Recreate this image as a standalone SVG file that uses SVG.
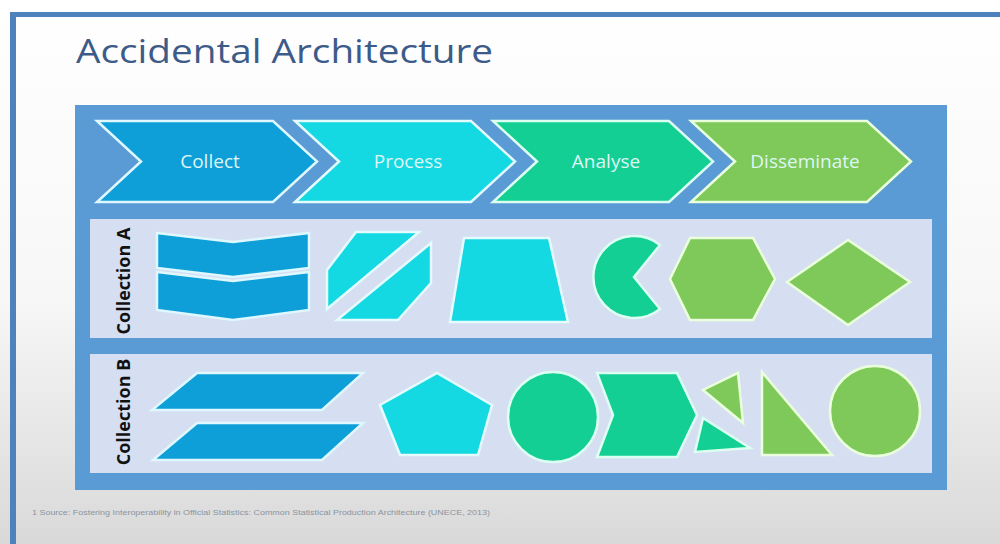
<svg xmlns="http://www.w3.org/2000/svg" width="1000" height="544" viewBox="0 0 1000 544">
  <defs>
    <linearGradient id="bg" x1="0" y1="0" x2="0" y2="1">
      <stop offset="0" stop-color="#ffffff"/>
      <stop offset="0.55" stop-color="#f7f7f7"/>
      <stop offset="1" stop-color="#d9d9d9"/>
    </linearGradient>
  </defs>
  <style>
    .title { font-family: "Open Sans", "Lato", sans-serif; font-size: 32px; fill: #3d5b88; }
    .stage { font-family: "Open Sans", "Lato", sans-serif; font-size: 19px; fill: #dff6f6; text-anchor: middle; dominant-baseline: central; }
    .rowlabel { font-family: "Open Sans", "Lato", sans-serif; font-size: 18px; font-weight: bold; fill: #111111; text-anchor: middle; dominant-baseline: central; }
    .note { font-family: "Liberation Sans", sans-serif; font-size: 8px; fill: #8a949e; }
    .panel { fill: #5b9bd5; }
    .band { fill: #d5dff1; }
    .blue { fill: #0e9fd8; stroke: #dff8ff; stroke-width: 2.5; stroke-linejoin: miter; }
    .cyan { fill: #14d9e2; stroke: #e4fcff; stroke-width: 2.5; }
    .teal { fill: #13cf94; stroke: #dcfff2; stroke-width: 2.5; }
    .lime { fill: #7ec95a; stroke: #eaffdc; stroke-width: 2.5; }
  </style>

  <!-- slide background and frame -->
  <rect x="0" y="0" width="1000" height="544" fill="url(#bg)"/>
  <rect x="10" y="12" width="990" height="5" fill="#4f81bd"/>
  <rect x="10" y="12" width="6" height="532" fill="#4f81bd"/>

  <text class="title" x="76" y="63" textLength="417" lengthAdjust="spacingAndGlyphs">Accidental Architecture</text>

  <!-- outer panel -->
  <rect class="panel" x="75" y="105" width="872" height="385"/>

  <!-- process stages -->
  <g id="stage-collect">
    <polygon class="blue" points="97,121 273,121 317,161.5 273,202 97,202 141,161.5"/>
    <text class="stage" x="210" y="161">Collect</text>
  </g>
  <g id="stage-process">
    <polygon class="cyan" points="295,121 471,121 515,161.5 471,202 295,202 339,161.5"/>
    <text class="stage" x="408" y="161">Process</text>
  </g>
  <g id="stage-analyse">
    <polygon class="teal" points="493,121 669,121 713,161.5 669,202 493,202 537,161.5"/>
    <text class="stage" x="606" y="161">Analyse</text>
  </g>
  <g id="stage-disseminate">
    <polygon class="lime" points="691,121 867,121 911,161.5 867,202 691,202 735,161.5"/>
    <text class="stage" x="805" y="161">Disseminate</text>
  </g>

  <!-- Collection A -->
  <g id="collection-a">
    <rect class="band" x="90" y="219" width="842" height="119"/>
    <text class="rowlabel" transform="translate(123,281) rotate(-90)">Collection A</text>
    <polygon class="blue" points="157,233 233,242 309,233 309,268 233,277 157,268"/>
    <polygon class="blue" points="157,272 233,281 309,272 309,310 233,320 157,310"/>
    <polygon class="cyan" points="356,232 419,232 327,309 327,270"/>
    <polygon class="cyan" points="431,243 431,283 398,320 337,320"/>
    <polygon class="cyan" points="464,238 549,238 568,322 450,322"/>
    <path class="teal" d="M634,277 L660,245 A41,41 0 1 0 660,309 Z"/>
    <polygon class="lime" points="670,279 690,238 753,238 775,279 753,320 690,320"/>
    <polygon class="lime" points="787,282 848,240 910,282 848,325"/>
  </g>

  <!-- Collection B -->
  <g id="collection-b">
    <rect class="band" x="90" y="354" width="842" height="119"/>
    <text class="rowlabel" transform="translate(123,412) rotate(-90)">Collection B</text>
    <polygon class="blue" points="197,373 363,373 322,410 152,410"/>
    <polygon class="blue" points="197,423 363,423 322,460 153,460"/>
    <polygon class="cyan" points="437,373 492,405 478,455 400,455 380,405"/>
    <circle class="teal" cx="553" cy="417" r="45"/>
    <polygon class="teal" points="597,373 677,373 697,415 677,457 597,457 613,415"/>
    <polygon class="lime" points="703,390 738,373 743,423"/>
    <polygon class="teal" points="703,418 750,448 695,452"/>
    <polygon class="lime" points="762,372 832,455 762,455"/>
    <circle class="lime" cx="875" cy="411" r="45"/>
  </g>

  <text class="note" x="32" y="515" textLength="458" lengthAdjust="spacingAndGlyphs">1 Source: Fostering Interoperability in Official Statistics: Common Statistical Production Architecture (UNECE, 2013)</text>
</svg>
